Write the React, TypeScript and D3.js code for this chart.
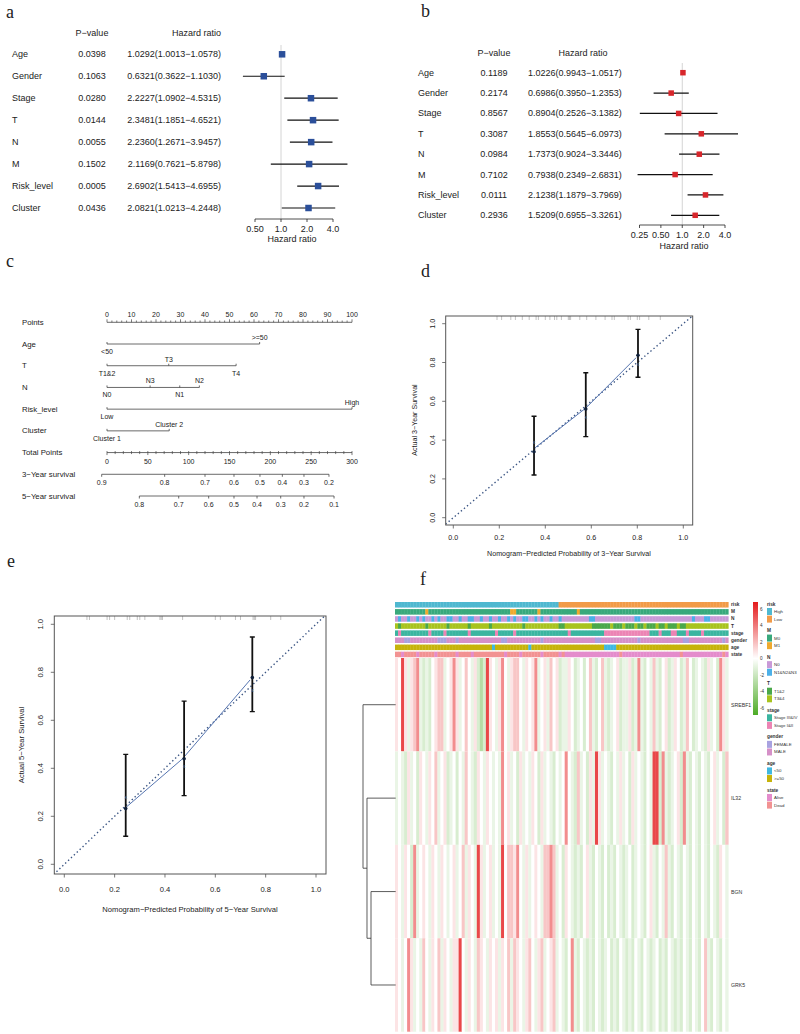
import React from "react";
import * as d3 from "d3";

const FONT = "Liberation Sans, Arial, sans-serif";
const SERIF = "Liberation Serif, Times New Roman, serif";

// ---- a / b : univariate and multivariate Cox
const VARIABLES = ["Age", "Gender", "Stage", "T", "N", "M", "Risk_level", "Cluster"];
const UNI_P = ["0.0398", "0.1063", "0.0280", "0.0144", "0.0055", "0.1502", "0.0005", "0.0436"];
const UNI_HR = [1.0292, 0.6321, 2.2227, 2.3481, 2.236, 2.1169, 2.6902, 2.0821];
const UNI_LOW = [1.0013, 0.3622, 1.0902, 1.1851, 1.2671, 0.7621, 1.5413, 1.0213];
const UNI_HIGH = [1.0578, 1.103, 4.5315, 4.6521, 3.9457, 5.8798, 4.6955, 4.2448];
const MULTI_P = ["0.1189", "0.2174", "0.8567", "0.3087", "0.0984", "0.7102", "0.0111", "0.2936"];
const MULTI_HR = [1.0226, 0.6986, 0.8904, 1.8553, 1.7373, 0.7938, 2.1238, 1.5209];
const MULTI_LOW = [0.9943, 0.395, 0.2526, 0.5645, 0.9024, 0.2349, 1.1879, 0.6955];
const MULTI_HIGH = [1.0517, 1.2353, 3.1382, 6.0973, 3.3446, 2.6831, 3.7969, 3.3261];
const UNI_TICKS = [0.5, 1, 2, 4];
const UNI_TICK_LABELS = ["0.50", "1.0", "2.0", "4.0"];
const MULTI_TICKS = [0.25, 0.5, 1, 2, 4];
const MULTI_TICK_LABELS = ["0.25", "0.50", "1.0", "2.0", "4.0"];

// ---- c : nomogram
const NOMO_ROWS = ["Points", "Age", "T", "N", "Risk_level", "Cluster", "Total Points", "3−Year survival", "5−Year survival"];
const AGE_LEVELS = ["<50", ">=50"];
const AGE_POINTS = [0, 62.3];
const T_LEVELS = ["T1&2", "T3", "T4"];
const T_POINTS = [0, 25.2, 52.7];
const N_LEVELS = ["N0", "N3", "N1", "N2"];
const N_POINTS = [0, 17.6, 29.7, 37.7];
const RISK_LEVELS = ["Low", "High"];
const RISK_POINTS = [0, 100];
const CLUSTER_LEVELS = ["Cluster 1", "Cluster 2"];
const CLUSTER_POINTS = [0, 25.4];
const SURV3_LABELS = ["0.9", "0.8", "0.7", "0.6", "0.5", "0.4", "0.3", "0.2"];
const SURV3_TOTAL = [-6.5, 70.6, 120, 155.5, 187.3, 214.7, 241.2, 271.8];
const SURV5_LABELS = ["0.8", "0.7", "0.6", "0.5", "0.4", "0.3", "0.2", "0.1"];
const SURV5_TOTAL = [39.6, 87.8, 124.5, 155.5, 183.7, 212.7, 241.2, 278];

// ---- d / e : calibration
const CAL3_PRED = [0.351, 0.576, 0.803];
const CAL3_OBS = [0.34, 0.56, 0.837];
const CAL3_LO = [0.22, 0.418, 0.724];
const CAL3_HI = [0.523, 0.747, 0.971];
const CAL3_LINE_X = [0.355, 0.576, 0.795];
const CAL3_LINE_Y = [0.36, 0.565, 0.825];
const CAL3_CORR = [0.39, 0.52, 0.79];
const CAL3_RUG = [0.19, 0.21, 0.25, 0.27, 0.3, 0.33, 0.36, 0.37, 0.4, 0.42, 0.44, 0.45, 0.47, 0.5, 0.505, 0.51, 0.55, 0.58, 0.62, 0.66, 0.69, 0.7, 0.76, 0.77, 0.8, 0.81, 0.85, 0.9];
const CAL5_PRED = [0.244, 0.476, 0.747];
const CAL5_OBS = [0.232, 0.44, 0.778];
const CAL5_LO = [0.117, 0.286, 0.636];
const CAL5_HI = [0.458, 0.68, 0.947];
const CAL5_LINE_X = [0.248, 0.47, 0.738];
const CAL5_LINE_Y = [0.24, 0.44, 0.768];
const CAL5_CORR = [0.28, 0.41, 0.727];
const CAL5_RUG = [0.09, 0.1, 0.17, 0.18, 0.2, 0.25, 0.26, 0.29, 0.3, 0.32, 0.38, 0.385, 0.39, 0.47, 0.6, 0.62, 0.68, 0.7, 0.75, 0.755, 0.76, 0.82, 0.86];
const CAL_TICKS = [0, 0.2, 0.4, 0.6, 0.8, 1.0];

// ---- f : heatmap (one char per sample)
const GENES = ["SREBF1", "IL32", "BGN", "GRK5"];
const LEVEL_CODES = "Gghwpqrs";
const LEVEL_VALUES = [-2.5, -1.3, -0.7, 0, 0.7, 1.5, 3, 4.8];
const EXPR_SREBF1 = ["pwsphpqrhg", "hgwpqqhwpr", "phwqwhpgGg", "spwhprwhpq", "qwhpwprhwp", "hqwpghhpwg", "hwgwqhgwqh", "ghwpghhpgh", "rhgwhqhgwp", "ghpwghqwgh", "whgphwgrph"].join("");
const EXPR_IL32 = ["hwhgphwgpw", "hpwqhwpghw", "gwhqwhgpwh", "pwhwhrwphw", "gphwhpwgph", "whgwhwrwhg", "qhwgphsphw", "hgwhphwgph", "whgwhssgrh", "ghwpgrhgwh", "gwhgwphwgq"].join("");
const EXPR_BGN = ["pwhpwgrhwp", "whpwhpwhwp", "hwqhpwhsph", "wphwhswqqp", "rwhphwpwhq", "qrqhwgpwhg", "hgwphgwhgw", "ghgwhghwgh", "whgwphgwhq", "hgwhgwhgwh", "gwhgwhgpwh"].join("");
const EXPR_GRK5 = ["pwhwrphwhq", "whpwqhpwhp", "pswhpwhqpw", "hpwphpwqhq", "pwhpqwhpqh", "wpqhwhgwrh", "gwhghgwhgh", "wghgwhghgw", "hgwhghwghg", "whghgwhgwh", "gwqhgwhgwh"].join("");

const ANNOT_NAMES = ["risk", "M", "N", "T", "stage", "gender", "age", "state"];
const ANNOT_LEVELS = [["High", "Low"], ["M0", "M1"], ["N0", "N1&N2&N3"], ["T1&2", "T3&4"], ["Stage III&IV", "Stage I&II"], ["FEMALE", "MALE"], ["<50", ">=50"], ["Alive", "Dead"]];
const ANNOT_COLORS = [["#4fb8d0", "#f29b48"], ["#38a97c", "#efa92e"], ["#c99ad8", "#4cb0e8"], ["#4aa84a", "#a8c31e"], ["#3bb5a0", "#ec84b4"], ["#a8a2e0", "#d590c8"], ["#40b8e0", "#c6b30a"], ["#e48ccc", "#f29292"]];
const ANNOT_RISK = ["aaaaaaaaaa", "aaaaaaaaaa", "aaaaaaaaaa", "aaaaaaaaaa", "aaaaaaaaaa", "aaaabbbbbb", "bbbbbbbbbb", "bbbbbbbbbb", "bbbbbbbbbb", "bbbbbbbbbb", "bbbbbbbbbb"].join("");
const ANNOT_M = ["aaaaaaaaaa", "baaaaaaaaa", "aaaaaaaaaa", "aaaaaaaabb", "aaaaaaabaa", "aaaaaaaaaa", "baaaaaaaaa", "aaaaaaaaaa", "aaaaaaaaaa", "aaaaaaaaaa", "aaaaaaaaaa"].join("");
const ANNOT_N = ["abaabaabab", "aababaabba", "abaabbaaba", "abaabaabab", "aabbaababa", "abaabaaaaa", "aaaabbaaaa", "aaaaaaaaab", "baaaaaaaaa", "aaaaaaaaba", "aabbaaaaaa"].join("");
const ANNOT_T = ["babbbbbbbb", "abbbbbbabb", "bbbbabbbbb", "babbbbbbbb", "bbabbbbbbb", "bbbbaabbbb", "bbbbbaaaaa", "abaaabaaab", "aabaaabaab", "aaabaabbbb", "bbbbbbbbbb"].join("");
const ANNOT_STAGE = ["abaaaaaaaa", "abaaaabaaa", "aaaabaaaaa", "aaabaaaaab", "aaaaaaaaaa", "aaaaaaabaa", "aaaaaaaaab", "bbbbbbbbbb", "bbbbaaabaa", "abbaaabaaa", "abaaaaaaaa"].join("");
const ANNOT_GENDER = ["bbbaabbbbb", "bbbbaaabbb", "abbbbbbbbb", "bbbbbaabbb", "bbbbbbbbab", "bbbbbbbbbb", "bbbbbbaabb", "bbbbbbbbbb", "abbbbbbbbb", "bbbbbaabbb", "bbbbbbbbab"].join("");
const ANNOT_AGE = ["bbbbbbbbbb", "bbbbbbbbbb", "bbbbbbbbbb", "bbabbbbbbb", "bbbbabbbbb", "bbbbbbbbbb", "bbbbbbbbba", "aaabbbbbbb", "bbbbbbbbbb", "bbbbbbbbbb", "bbbbbbbbbb"].join("");
const ANNOT_STATE = ["bbabbbbabb", "bbbabbbbbb", "abbbbabbbb", "bbbbbbabbb", "babbbbbbab", "bbbbabaaaa", "aaaaaaaaaa", "aaaabaaaaa", "aaaaaaaaaa", "aaaabaaaaa", "aaaaaaaaba"].join("");
const COLOR_TICKS = [6, 4, 2, 0, -2, -4, -6];

// gene clustering (merge heights, relative)
const DENDRO = { h: 1, kids: [{ leaf: "SREBF1" }, { h: 0.878, kids: [{ leaf: "IL32" }, { h: 0.755, kids: [{ leaf: "BGN" }, { leaf: "GRK5" }] }] }] };

type ForestCfg = {
  p: string[]; hr: number[]; lo: number[]; hi: number[];
  ticks: number[]; tickLabels: string[];
  labelX: number; pX: number; hrX: number; hrAnchor: string; hrHeadX: number; hrHeadAnchor: string;
  headerY: number; yRange: [number, number]; xRange: [number, number];
  axisY: number; refTop: number; sq: number; color: string; titleY: number; titleX: number;
};

const fmt = (v: number) => v.toFixed(4);

const Forest = ({ cfg }: { cfg: ForestCfg }) => {
  const x = d3.scaleLog().base(2).domain([cfg.ticks[0], cfg.ticks[cfg.ticks.length - 1]]).range(cfg.xRange);
  const y = d3.scalePoint<string>().domain(VARIABLES).range(cfg.yRange);
  return (
    <g fontFamily={FONT} fontSize={9} fill="#222">
      <text x={cfg.pX} y={cfg.headerY} textAnchor="middle" dominantBaseline="central">P−value</text>
      <text x={cfg.hrHeadX} y={cfg.headerY} textAnchor={cfg.hrHeadAnchor as any} dominantBaseline="central">Hazard ratio</text>
      <line x1={x(1)} x2={x(1)} y1={cfg.refTop} y2={cfg.axisY} stroke="#d4d4d4" strokeWidth={1} />
      {VARIABLES.map((v, i) => (
        <g key={v}>
          <text x={cfg.labelX} y={y(v)} dominantBaseline="central">{v}</text>
          <text x={cfg.pX} y={y(v)} textAnchor="middle" dominantBaseline="central">{cfg.p[i]}</text>
          <text x={cfg.hrX} y={y(v)} textAnchor={cfg.hrAnchor as any} dominantBaseline="central">
            {`${fmt(cfg.hr[i])}(${fmt(cfg.lo[i])}−${fmt(cfg.hi[i])})`}
          </text>
          <line x1={x(cfg.lo[i])} x2={x(cfg.hi[i])} y1={y(v)} y2={y(v)} stroke="#111" strokeWidth={1.2} />
          <rect x={x(cfg.hr[i]) - cfg.sq / 2} y={(y(v) as number) - cfg.sq / 2} width={cfg.sq} height={cfg.sq} fill={cfg.color} />
        </g>
      ))}
      <line x1={cfg.xRange[0]} x2={cfg.xRange[1]} y1={cfg.axisY} y2={cfg.axisY} stroke="#222" strokeWidth={0.8} />
      {cfg.ticks.map((t, i) => (
        <g key={t}>
          <line x1={x(t)} x2={x(t)} y1={cfg.axisY} y2={cfg.axisY + 3} stroke="#222" strokeWidth={0.8} />
          <text x={x(t)} y={cfg.axisY + 10} textAnchor="middle" dominantBaseline="central">{cfg.tickLabels[i]}</text>
        </g>
      ))}
      <text x={cfg.titleX} y={cfg.titleY} textAnchor="middle" dominantBaseline="central">Hazard ratio</text>
    </g>
  );
};

const NOMO_VARS = [
  { row: "Age", levels: AGE_LEVELS, points: AGE_POINTS },
  { row: "T", levels: T_LEVELS, points: T_POINTS },
  { row: "N", levels: N_LEVELS, points: N_POINTS },
  { row: "Risk_level", levels: RISK_LEVELS, points: RISK_POINTS },
  { row: "Cluster", levels: CLUSTER_LEVELS, points: CLUSTER_POINTS },
];

const Nomogram = () => {
  const px = d3.scaleLinear().domain([0, 100]).range([107, 352]);
  const tx = d3.scaleLinear().domain([0, 300]).range([107, 352]);
  const ry = d3.scalePoint<string>().domain(NOMO_ROWS).range([322.3, 496]);
  const stroke = "#444";
  const pY = ry("Points") as number;
  const tY = ry("Total Points") as number;
  const survAxis = (row: string, labels: string[], totals: number[]) => {
    const yy = ry(row) as number;
    return (
      <g key={row}>
        <line x1={tx(d3.min(totals)!)} x2={tx(d3.max(totals)!)} y1={yy} y2={yy} stroke={stroke} strokeWidth={0.8} />
        {totals.map((t, i) => (
          <g key={i}>
            <line x1={tx(t)} x2={tx(t)} y1={yy} y2={yy + 2.5} stroke={stroke} strokeWidth={0.8} />
            <text x={tx(t)} y={yy + 8.5} textAnchor="middle" dominantBaseline="central" fontSize={7}>{labels[i]}</text>
          </g>
        ))}
      </g>
    );
  };
  return (
    <g fontFamily={FONT} fill="#222" fontSize={7.8}>
      {NOMO_ROWS.map((r) => (
        <text key={r} x={22} y={ry(r)} dominantBaseline="central">{r}</text>
      ))}
      {/* Points axis */}
      <line x1={px(0)} x2={px(100)} y1={pY} y2={pY} stroke={stroke} strokeWidth={0.8} />
      {d3.range(0, 101, 2).map((t) => (
        <line key={t} x1={px(t)} x2={px(t)} y1={pY} y2={pY - (t % 10 === 0 ? 3 : 1.8)} stroke={stroke} strokeWidth={0.7} />
      ))}
      {d3.range(0, 101, 10).map((t) => (
        <text key={t} x={px(t)} y={pY - 7.5} textAnchor="middle" dominantBaseline="central" fontSize={7}>{t}</text>
      ))}
      {/* predictors */}
      {NOMO_VARS.map((v) => {
        const yy = ry(v.row) as number;
        const order = d3.range(v.levels.length).sort((a, b) => v.points[a] - v.points[b]);
        return (
          <g key={v.row}>
            <line x1={px(d3.min(v.points)!)} x2={px(d3.max(v.points)!)} y1={yy} y2={yy} stroke={stroke} strokeWidth={0.8} />
            {order.map((li, k) => (
              <g key={li}>
                <line x1={px(v.points[li])} x2={px(v.points[li])} y1={yy} y2={yy - 2} stroke={stroke} strokeWidth={0.8} />
                <text x={px(v.points[li])} y={k % 2 === 0 ? yy + 7.5 : yy - 6.5} textAnchor="middle" dominantBaseline="central" fontSize={7}>
                  {v.levels[li]}
                </text>
              </g>
            ))}
          </g>
        );
      })}
      {/* Total points */}
      <line x1={tx(0)} x2={tx(300)} y1={tY} y2={tY} stroke={stroke} strokeWidth={0.8} />
      {d3.range(0, 301, 10).map((t) => (
        <line key={t} x1={tx(t)} x2={tx(t)} y1={tY - 1.5} y2={tY + (t % 50 === 0 ? 2.5 : 1.5)} stroke={stroke} strokeWidth={0.7} />
      ))}
      {d3.range(0, 301, 50).map((t) => (
        <text key={t} x={tx(t)} y={tY + 8.5} textAnchor="middle" dominantBaseline="central" fontSize={7}>{t}</text>
      ))}
      {survAxis("3−Year survival", SURV3_LABELS, SURV3_TOTAL)}
      {survAxis("5−Year survival", SURV5_LABELS, SURV5_TOTAL)}
    </g>
  );
};

type CalCfg = {
  id: string; box: [number, number, number, number]; xRange: [number, number]; yRange: [number, number];
  pred: number[]; obs: number[]; lo: number[]; hi: number[]; lineX: number[]; lineY: number[]; corr: number[]; rug: number[];
  fs: number; xLabY: number; yLabX: number; xTitle: string; xTitleX: number; xTitleY: number; yTitle: string; yTitleX: number; yTitleY: number;
};

const Calibration = ({ c }: { c: CalCfg }) => {
  const x = d3.scaleLinear().domain([0, 1]).range(c.xRange);
  const y = d3.scaleLinear().domain([0, 1]).range(c.yRange);
  const [l, t, r, b] = c.box;
  const line = d3.line<number>().x((_, i) => x(c.lineX[i])).y((d) => y(d));
  return (
    <g fontFamily={FONT} fill="#222" fontSize={c.fs}>
      <defs>
        <clipPath id={c.id}>
          <rect x={l} y={t} width={r - l} height={b - t} />
        </clipPath>
      </defs>
      <g clipPath={`url(#${c.id})`}>
        <line x1={x(-0.1)} y1={y(-0.1)} x2={x(1.1)} y2={y(1.1)} stroke="#3c5684" strokeWidth={1.4} strokeDasharray="1.4 2.6" />
        {c.rug.map((v, i) => (
          <line key={i} x1={x(v)} x2={x(v)} y1={t} y2={t + 4} stroke="#999" strokeWidth={0.6} />
        ))}
        <path d={line(c.lineY) || ""} fill="none" stroke="#5675b0" strokeWidth={1} />
        {c.pred.map((p, i) => (
          <g key={i}>
            <line x1={x(p)} x2={x(p)} y1={y(c.lo[i])} y2={y(c.hi[i])} stroke="#111" strokeWidth={1.8} />
            <line x1={x(p) - 2.5} x2={x(p) + 2.5} y1={y(c.lo[i])} y2={y(c.lo[i])} stroke="#111" strokeWidth={1.4} />
            <line x1={x(p) - 2.5} x2={x(p) + 2.5} y1={y(c.hi[i])} y2={y(c.hi[i])} stroke="#111" strokeWidth={1.4} />
            <text x={x(p)} y={y(c.corr[i])} textAnchor="middle" dominantBaseline="central" fontSize={5} fill="#5675b0">x</text>
            <circle cx={x(p)} cy={y(c.obs[i])} r={1.8} fill="#10203a" />
          </g>
        ))}
      </g>
      <rect x={l} y={t} width={r - l} height={b - t} fill="none" stroke="#555" strokeWidth={1} />
      {CAL_TICKS.map((v) => (
        <g key={v}>
          <line x1={x(v)} x2={x(v)} y1={b} y2={b + 3.5} stroke="#555" strokeWidth={0.8} />
          <text x={x(v)} y={c.xLabY} textAnchor="middle" dominantBaseline="central">{v.toFixed(1)}</text>
          <line x1={l} x2={l - 3.5} y1={y(v)} y2={y(v)} stroke="#555" strokeWidth={0.8} />
          <text transform={`translate(${c.yLabX},${y(v)}) rotate(-90)`} textAnchor="middle" dominantBaseline="central">{v.toFixed(1)}</text>
        </g>
      ))}
      <text x={c.xTitleX} y={c.xTitleY} textAnchor="middle" dominantBaseline="central">{c.xTitle}</text>
      <text transform={`translate(${c.yTitleX},${c.yTitleY}) rotate(-90)`} textAnchor="middle" dominantBaseline="central">{c.yTitle}</text>
    </g>
  );
};

const Heatmap = () => {
  const expr = [EXPR_SREBF1, EXPR_IL32, EXPR_BGN, EXPR_GRK5];
  const annots = [ANNOT_RISK, ANNOT_M, ANNOT_N, ANNOT_T, ANNOT_STAGE, ANNOT_GENDER, ANNOT_AGE, ANNOT_STATE];
  const n = EXPR_SREBF1.length;
  const x = d3.scaleBand<number>().domain(d3.range(n)).range([395, 728.3]);
  const gy = d3.scaleBand<string>().domain(GENES).range([658, 1031.7]);
  const ay = d3.scaleBand<string>().domain(ANNOT_NAMES).range([602, 657.2]).paddingInner(0.22);
  const color = d3.scaleLinear<string>().domain([-6, 0, 6]).range(["#4dac26", "#ffffff", "#e41a1c"]).clamp(true);
  const cy = d3.scaleLinear().domain([-6, 6]).range([708, 609]);
  const w = x.bandwidth();
  const leafY = (g: string) => (gy(g) as number) + gy.bandwidth() / 2;
  const hx = d3.scaleLinear().domain([0, 1]).range([395.7, 363]);
  const segs: JSX.Element[] = [];
  const walk = (node: any): number => {
    if (node.leaf) return leafY(node.leaf);
    const ys = node.kids.map((k: any) => walk(k));
    const hs = node.kids.map((k: any) => (k.leaf ? 0 : k.h));
    const xx = hx(node.h);
    node.kids.forEach((_: any, i: number) => {
      segs.push(<line key={`h${segs.length}`} x1={xx} x2={hx(hs[i])} y1={ys[i]} y2={ys[i]} stroke="#333" strokeWidth={0.8} />);
    });
    segs.push(<line key={`v${segs.length}`} x1={xx} x2={xx} y1={ys[0]} y2={ys[1]} stroke="#333" strokeWidth={0.8} />);
    return (ys[0] + ys[1]) / 2;
  };
  walk(DENDRO);
  const legendY = d3.scaleLinear().domain([0, 7]).range([604, 790]);
  return (
    <g fontFamily={FONT} fill="#333">
      <defs>
        <linearGradient id="hmgrad" x1="0" y1="0" x2="0" y2="1">
          <stop offset="0" stopColor="#e41a1c" />
          <stop offset="0.5" stopColor="#ffffff" />
          <stop offset="1" stopColor="#4dac26" />
        </linearGradient>
      </defs>
      {annots.map((s, r) => (
        <g key={ANNOT_NAMES[r]}>
          {s.split("").map((ch, i) => (
            <rect key={i} x={x(i)} y={ay(ANNOT_NAMES[r])} width={w + 0.3} height={ay.bandwidth()} fill={ANNOT_COLORS[r][ch === "a" ? 0 : 1]} />
          ))}
          <text x={731} y={(ay(ANNOT_NAMES[r]) as number) + ay.bandwidth() / 2} fontSize={4.8} fontWeight="bold" dominantBaseline="central">
            {ANNOT_NAMES[r]}
          </text>
        </g>
      ))}
      {expr.map((s, r) => (
        <g key={GENES[r]}>
          {s.split("").map((ch, i) => (
            <rect key={i} x={x(i)} y={gy(GENES[r])} width={w + 0.3} height={gy.bandwidth()} fill={color(LEVEL_VALUES[LEVEL_CODES.indexOf(ch)])} />
          ))}
          <text x={731} y={leafY(GENES[r])} fontSize={5.2} dominantBaseline="central">{GENES[r]}</text>
        </g>
      ))}
      {segs}
      {/* colour key */}
      <rect x={753} y={602} width={5} height={113} fill="url(#hmgrad)" />
      {COLOR_TICKS.map((t) => (
        <text key={t} x={760} y={cy(t)} fontSize={4.6} dominantBaseline="central">{t}</text>
      ))}
      {ANNOT_NAMES.map((nm, g) => {
        const y0 = legendY(g);
        return (
          <g key={nm}>
            <text x={767} y={y0} fontSize={4.8} fontWeight="bold" dominantBaseline="central">{nm}</text>
            {ANNOT_LEVELS[g].map((lv, k) => (
              <g key={lv}>
                <rect x={767} y={y0 + 4 + k * 7.6} width={5} height={7} fill={ANNOT_COLORS[g][k]} />
                <text x={774} y={y0 + 7.5 + k * 7.6} fontSize={4.4} dominantBaseline="central">{lv}</text>
              </g>
            ))}
          </g>
        );
      })}
    </g>
  );
};

const FOREST_A: ForestCfg = {
  p: UNI_P, hr: UNI_HR, lo: UNI_LOW, hi: UNI_HIGH, ticks: UNI_TICKS, tickLabels: UNI_TICK_LABELS,
  labelX: 12, pX: 92, hrX: 221, hrAnchor: "end", hrHeadX: 221, hrHeadAnchor: "end",
  headerY: 33.3, yRange: [54.3, 208], xRange: [255, 333], axisY: 219, refTop: 45, sq: 6.5,
  color: "#2b4f9a", titleY: 239.3, titleX: 292,
};
const FOREST_B: ForestCfg = {
  p: MULTI_P, hr: MULTI_HR, lo: MULTI_LOW, hi: MULTI_HIGH, ticks: MULTI_TICKS, tickLabels: MULTI_TICK_LABELS,
  labelX: 418, pX: 494, hrX: 528, hrAnchor: "start", hrHeadX: 583, hrHeadAnchor: "middle",
  headerY: 53.3, yRange: [72.7, 215.3], xRange: [639.5, 725], axisY: 225, refTop: 63, sq: 5.5,
  color: "#d7262b", titleY: 246, titleX: 684,
};
const CAL_D: CalCfg = {
  id: "clipd", box: [445.7, 316, 692.7, 525], xRange: [453.3, 683.3], yRange: [517.7, 323.7],
  pred: CAL3_PRED, obs: CAL3_OBS, lo: CAL3_LO, hi: CAL3_HI, lineX: CAL3_LINE_X, lineY: CAL3_LINE_Y, corr: CAL3_CORR, rug: CAL3_RUG,
  fs: 7.1, xLabY: 537.7, yLabX: 433, xTitle: "Nomogram−Predicted Probability of 3−Year Survival", xTitleX: 569, xTitleY: 554,
  yTitle: "Actual 3−Year Survival", yTitleX: 415, yTitleY: 420,
};
const CAL_E: CalCfg = {
  id: "clipe", box: [54.3, 616, 326, 874], xRange: [64.3, 316], yRange: [864.3, 624.3],
  pred: CAL5_PRED, obs: CAL5_OBS, lo: CAL5_LO, hi: CAL5_HI, lineX: CAL5_LINE_X, lineY: CAL5_LINE_Y, corr: CAL5_CORR, rug: CAL5_RUG,
  fs: 7.6, xLabY: 889, yLabX: 40.7, xTitle: "Nomogram−Predicted Probability of 5−Year Survival", xTitleX: 190, xTitleY: 909,
  yTitle: "Actual 5−Year Survival", yTitleX: 21.7, yTitleY: 745,
};

const PANEL_LETTERS = [
  { t: "a", x: 6, y: 18 }, { t: "b", x: 421, y: 17 }, { t: "c", x: 6, y: 267 },
  { t: "d", x: 421, y: 277 }, { t: "e", x: 7, y: 567 }, { t: "f", x: 420, y: 585 },
];

export default function App() {
  return (
    <svg width={800} height={1034} style={{ position: "absolute", left: 0, top: 0, background: "#fff" }}>
      <rect width={800} height={1034} fill="#fff" />
      {PANEL_LETTERS.map((p) => (
        <text key={p.t} x={p.x} y={p.y} fontFamily={SERIF} fontSize={18} fill="#222">{p.t}</text>
      ))}
      <Forest cfg={FOREST_A} />
      <Forest cfg={FOREST_B} />
      <Nomogram />
      <Calibration c={CAL_D} />
      <Calibration c={CAL_E} />
      <Heatmap />
    </svg>
  );
}
